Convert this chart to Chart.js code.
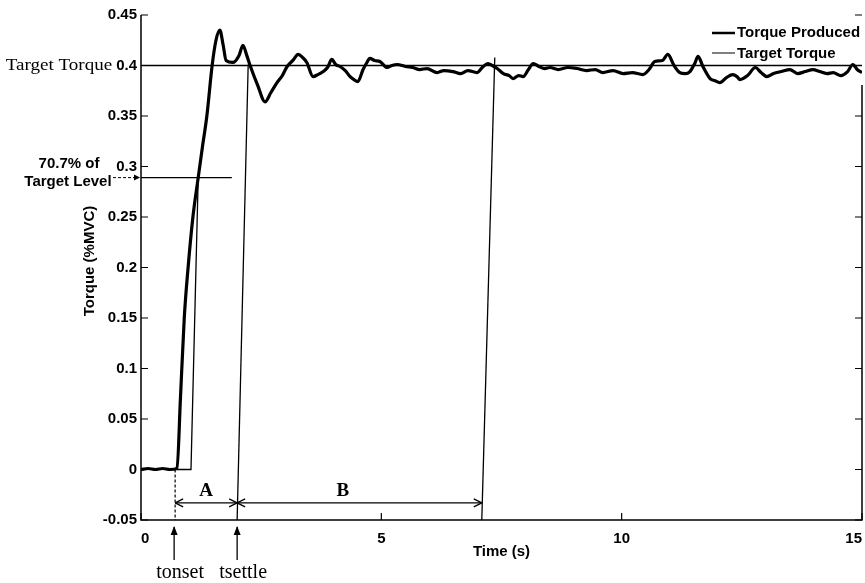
<!DOCTYPE html>
<html>
<head>
<meta charset="utf-8">
<script src="https://cdn.jsdelivr.net/npm/chart.js@4"></script>
<style>
  body { margin: 0; background: #fff; }
  #wrap { width: 865px; height: 583px; }
</style>
</head>
<body>
<div id="wrap"><canvas id="torqueChart" width="865" height="583"></canvas></div>
<script>
// values
var timeS = [0, 0.15, 0.3, 0.45, 0.6, 0.75, 0.82, 0.9, 0.98, 1.08, 1.19, 1.28, 1.37, 1.48, 1.56, 1.64, 1.71, 1.77, 1.91, 2.04,
    2.12, 2.2, 2.27, 2.43, 2.58, 2.7, 2.83, 2.94, 3.04, 3.16, 3.27, 3.36, 3.45, 3.58, 3.68, 3.79, 3.88, 3.97, 4.05, 4.14,
    4.25, 4.35, 4.43, 4.51, 4.62, 4.7, 4.76, 4.86, 4.97, 5.12, 5.22, 5.33, 5.5, 5.65, 5.8, 5.95, 6.16, 6.3, 6.49, 6.65,
    6.8, 6.99, 7.1, 7.22, 7.31, 7.41, 7.54, 7.66, 7.74, 7.86, 7.95, 8.06, 8.16, 8.28, 8.4, 8.51, 8.68, 8.88, 9.07, 9.27,
    9.45, 9.61, 9.82, 10.03, 10.22, 10.44, 10.57, 10.69, 10.85, 10.96, 11.09, 11.21, 11.32, 11.42, 11.52, 11.59, 11.69, 11.84, 11.94, 12.04,
    12.18, 12.31, 12.4, 12.46, 12.62, 12.78, 12.9, 13.02, 13.16, 13.32, 13.5, 13.66, 13.82, 13.98, 14.12, 14.27, 14.4, 14.56, 14.7, 14.81,
    14.9, 15.0];
var torqueProduced = [0, 0.001, 0, 0.001, 0, 0.001, 0.07, 0.15, 0.2, 0.25, 0.289, 0.32, 0.35, 0.4, 0.425, 0.435, 0.42, 0.405, 0.403, 0.41,
    0.42, 0.41, 0.4, 0.38, 0.364, 0.373, 0.383, 0.39, 0.399, 0.405, 0.411, 0.408, 0.403, 0.389, 0.391, 0.394, 0.398, 0.406, 0.401, 0.399,
    0.395, 0.389, 0.386, 0.384, 0.396, 0.403, 0.407, 0.405, 0.404, 0.398, 0.4, 0.401, 0.399, 0.398, 0.396, 0.397, 0.393, 0.395, 0.394, 0.392,
    0.395, 0.393, 0.398, 0.402, 0.4, 0.397, 0.392, 0.39, 0.387, 0.39, 0.389, 0.396, 0.402, 0.399, 0.397, 0.398, 0.396, 0.398, 0.397, 0.395,
    0.396, 0.393, 0.395, 0.392, 0.393, 0.391, 0.396, 0.404, 0.405, 0.411, 0.4, 0.393, 0.392, 0.394, 0.402, 0.409, 0.399, 0.387, 0.385, 0.383,
    0.388, 0.391, 0.389, 0.386, 0.39, 0.398, 0.393, 0.389, 0.392, 0.394, 0.396, 0.392, 0.394, 0.396, 0.394, 0.392, 0.393, 0.39, 0.394, 0.401,
    0.396, 0.393];
var targetTorque = 0.4;
var level707 = 0.289;
var level707End = 1.89;
var tOnset = 0.71;
var tStepLow = 1.04, tStepHigh = 1.19;
var tSettleLow = 2.0, tSettleHigh = 2.23;
var tEndBLow = 7.09, tEndBHigh = 7.36;
var arrowLevel = -0.033;
var xTicks = [0, 5, 10, 15];
var yTicks = [-0.05, 0, 0.05, 0.1, 0.15, 0.2, 0.25, 0.3, 0.35, 0.4, 0.45];

var sans = "'Liberation Sans', Arial, sans-serif";
var serif = "'Liberation Serif', 'Times New Roman', serif";

var torquePts = timeS.map(function(t, i) { return {x: t, y: torqueProduced[i]}; });

function seg(pts, width, dash) {
    return {
        data: pts, borderColor: '#000', borderWidth: width, borderDash: dash || [],
        pointRadius: 0, fill: false, tension: 0
    };
}

// text, arrows, inward ticks, legend
var decorations = {
    id: 'decorations',
    afterDraw: function(chart) {
        var ctx = chart.ctx, x = chart.scales.x, y = chart.scales.y, a = chart.chartArea;
        ctx.save();
        ctx.strokeStyle = '#000';
        ctx.fillStyle = '#000';
        ctx.lineWidth = 1.5;
        ctx.beginPath();
        ctx.moveTo(a.left, a.top); ctx.lineTo(a.left, a.bottom); ctx.lineTo(a.right, a.bottom); ctx.lineTo(a.right, a.top + 70);
        ctx.stroke();
        ctx.lineWidth = 1.2;
        yTicks.forEach(function(v) {
            var py = y.getPixelForValue(v);
            ctx.beginPath();
            ctx.moveTo(a.left, py); ctx.lineTo(a.left + 7, py);
            ctx.moveTo(a.right, py); ctx.lineTo(a.right - 7, py);
            ctx.stroke();
        });
        xTicks.forEach(function(v) {
            var px = x.getPixelForValue(v);
            ctx.beginPath(); ctx.moveTo(px, a.bottom); ctx.lineTo(px, a.bottom - 7); ctx.stroke();
        });

        // Target Torque label beside the 0.4 tick
        ctx.font = 'bold 15px ' + sans;
        var w04 = ctx.measureText('0.4').width;
        ctx.save();
        ctx.font = '17px ' + serif;
        ctx.textAlign = 'right';
        ctx.textBaseline = 'middle';
        ctx.translate(a.left - 4 - w04 - 4, y.getPixelForValue(targetTorque));
        ctx.scale(1.12, 1);
        ctx.fillText('Target Torque', 0, 0);
        ctx.restore();

        // 70.7% label and leader
        var p707 = y.getPixelForValue(level707);
        ctx.font = 'bold 15px ' + sans;
        ctx.textAlign = 'center';
        ctx.textBaseline = 'middle';
        ctx.fillText('70.7% of', 69, p707 - 14);
        ctx.fillText('Target Level', 68, p707 + 4);
        ctx.lineWidth = 1;
        ctx.setLineDash([3, 2]);
        ctx.beginPath(); ctx.moveTo(113, p707); ctx.lineTo(a.left - 2, p707); ctx.stroke();
        ctx.setLineDash([]);
        ctx.beginPath();
        ctx.moveTo(a.left - 1, p707); ctx.lineTo(a.left - 7, p707 - 3); ctx.lineTo(a.left - 7, p707 + 3); ctx.closePath(); ctx.fill();

        // A and B interval arrows
        var pa = y.getPixelForValue(arrowLevel);
        function head(px, dir) {
            ctx.beginPath();
            ctx.moveTo(px, pa); ctx.lineTo(px - dir * 8, pa - 4);
            ctx.moveTo(px, pa); ctx.lineTo(px - dir * 8, pa + 4);
            ctx.stroke();
        }
        ctx.lineWidth = 1.3;
        var xo = x.getPixelForValue(tOnset), xs = x.getPixelForValue(tSettleLow), xb = x.getPixelForValue(tEndBLow);
        head(xo, -1); head(xs, 1); head(xs, -1); head(xb, 1);
        ctx.font = 'bold 19px ' + serif;
        ctx.textBaseline = 'alphabetic';
        ctx.fillText('A', (xo + xs) / 2, pa - 7);
        ctx.fillText('B', x.getPixelForValue(4.2), pa - 7);

        // tonset / tsettle arrows below the axis
        [[xo - 1, 'tonset'], [xs, 'tsettle']].forEach(function(m) {
            ctx.lineWidth = 1.3;
            ctx.beginPath(); ctx.moveTo(m[0], a.bottom + 40); ctx.lineTo(m[0], a.bottom + 7); ctx.stroke();
            ctx.beginPath();
            ctx.moveTo(m[0], a.bottom + 6); ctx.lineTo(m[0] - 3.5, a.bottom + 15); ctx.lineTo(m[0] + 3.5, a.bottom + 15);
            ctx.closePath(); ctx.fill();
            ctx.font = '20px ' + serif;
            ctx.textBaseline = 'middle';
            ctx.fillText(m[1], m[0] + 6, a.bottom + 53);
        });

        // axis titles
        ctx.font = 'bold 15px ' + sans;
        ctx.textAlign = 'center';
        ctx.textBaseline = 'middle';
        ctx.fillText('Time (s)', (a.left + a.right) / 2, a.bottom + 32);
        ctx.save();
        ctx.translate(90, 261);
        ctx.rotate(-Math.PI / 2);
        ctx.fillText('Torque (%MVC)', 0, 0);
        ctx.restore();

        // legend
        ctx.font = 'bold 15px ' + sans;
        ctx.textAlign = 'left';
        ctx.lineWidth = 2.5;
        ctx.beginPath(); ctx.moveTo(712, 33); ctx.lineTo(735, 33); ctx.stroke();
        ctx.fillText('Torque Produced', 737, 33);
        ctx.lineWidth = 1;
        ctx.beginPath(); ctx.moveTo(712, 53); ctx.lineTo(735, 53); ctx.stroke();
        ctx.fillText('Target Torque', 737, 54);
        ctx.restore();
    }
};

var ctx = document.getElementById('torqueChart').getContext('2d');
var torqueChart = new Chart(ctx, {
    type: 'line',
    data: {
        datasets: [
            seg([{x: 0, y: targetTorque}, {x: 15, y: targetTorque}], 1.3),
            seg([{x: 0, y: level707}, {x: level707End, y: level707}], 1.3),
            seg([{x: tOnset + 0.04, y: 0}, {x: tStepLow, y: 0}, {x: tStepHigh, y: level707}], 1.3),
            seg([{x: tSettleLow, y: -0.05}, {x: tSettleHigh, y: 0.401}], 1.3),
            seg([{x: tEndBLow, y: -0.05}, {x: tEndBHigh, y: 0.408}], 1.3),
            seg([{x: tOnset, y: 0}, {x: tOnset, y: -0.05}], 1.2, [3, 2]),
            seg([{x: tOnset, y: arrowLevel}, {x: tSettleLow, y: arrowLevel}], 1.3),
            seg([{x: tSettleLow, y: arrowLevel}, {x: tEndBLow, y: arrowLevel}], 1.3),
            {
                label: 'Torque Produced', data: torquePts, borderColor: '#000', borderWidth: 3.2,
                pointRadius: 0, cubicInterpolationMode: 'monotone', fill: false
            }
        ]
    },
    options: {
        responsive: false,
        animation: false,
        layout: { padding: { top: 15, right: 3, left: 0, bottom: 0 } },
        plugins: { legend: { display: false }, tooltip: { enabled: false } },
        scales: {
            x: {
                type: 'linear', min: 0, max: 15,
                grid: { display: false, drawTicks: false }, border: { display: false },
                afterBuildTicks: function(s) { s.ticks = xTicks.map(function(v) { return {value: v}; }); },
                afterFit: function(s) { s.height = 63; s.paddingLeft = 0; s.paddingRight = 0; },
                ticks: { align: 'inner', padding: 10, maxRotation: 0, color: '#000',
                         font: { family: sans, size: 15, weight: 'bold' } }
            },
            y: {
                min: -0.05, max: 0.45,
                grid: { display: false, drawTicks: false }, border: { display: false },
                afterBuildTicks: function(s) { s.ticks = yTicks.map(function(v) { return {value: v}; }); },
                afterFit: function(s) { s.width = 141; },
                ticks: {
                    padding: 4, color: '#000',
                    font: { family: sans, size: 15, weight: 'bold' },
                    callback: function(v) { return parseFloat(v.toFixed(2)).toString(); }
                }
            }
        }
    },
    plugins: [decorations]
});
</script>
</body>
</html>
